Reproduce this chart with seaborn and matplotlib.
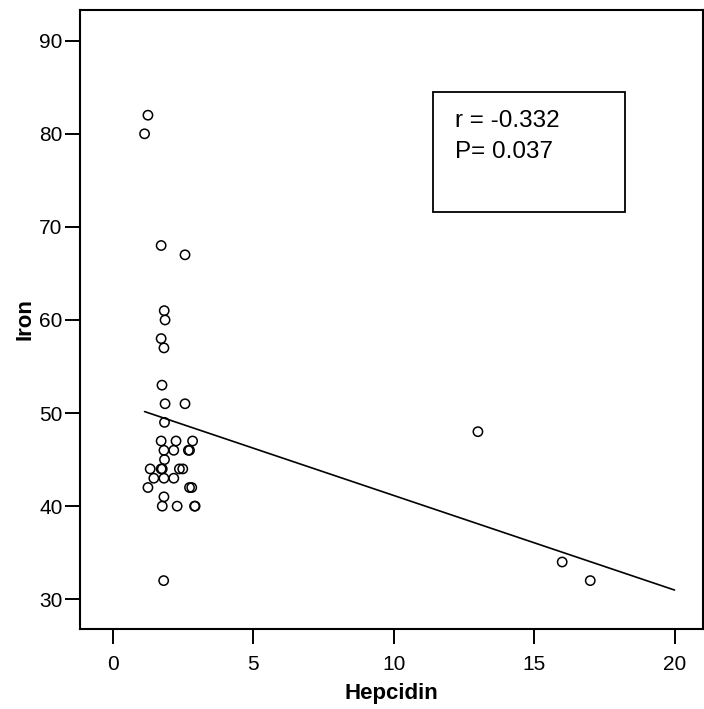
import numpy as np
import matplotlib
matplotlib.use("Agg")
import matplotlib.pyplot as plt
import seaborn as sns

# Hepcidin vs Iron values
hepcidin = [1.25, 1.13, 1.72, 2.57, 1.83, 1.86, 1.72, 1.82, 1.75, 1.86,
            2.57, 1.84, 1.72, 2.25, 2.84, 1.82, 2.17, 2.69, 2.73, 1.84,
            1.33, 1.72, 1.76, 2.37, 2.49, 1.46, 1.82, 2.17, 1.25, 2.73,
            2.81, 1.82, 1.76, 2.29, 2.91, 2.93, 1.81, 13.0, 16.0, 17.0]
iron = [82, 80, 68, 67, 61, 60, 58, 57, 53, 51,
        51, 49, 47, 47, 47, 46, 46, 46, 46, 45,
        44, 44, 44, 44, 44, 43, 43, 43, 42, 42,
        42, 41, 40, 40, 40, 40, 32, 48, 34, 32]
stats_lines = ["r = -0.332", "P= 0.037"]

sns.set_style("white")
plt.rcParams['font.family'] = ['Liberation Sans', 'DejaVu Sans']
plt.rcParams['text.color'] = 'black'
plt.rcParams['axes.labelcolor'] = 'black'
plt.rcParams['xtick.color'] = 'black'
plt.rcParams['ytick.color'] = 'black'

fig = plt.figure(figsize=(7.04, 7.09), dpi=100)
ax = fig.add_axes([0.1136, 0.1128, 0.8844, 0.8731])

sns.scatterplot(x=hepcidin, y=iron, ax=ax, s=45, facecolor="none",
                edgecolor="black", linewidth=1.1, zorder=3)

# linear fit line, drawn from smallest x to 20
slope, intercept = np.polyfit(hepcidin, iron, 1)
xs = np.array([min(hepcidin), 20])
ax.plot(xs, intercept + slope * xs, color="black", lw=1.2)

ax.set_xlim(-1.17, 21.0)
ax.set_ylim(26.8, 93.3)
ax.set_xticks([0, 5, 10, 15, 20])
ax.set_yticks([30, 40, 50, 60, 70, 80, 90])
ax.tick_params(direction="out", length=11, width=1.4, labelsize=15,
               bottom=True, left=True)
ax.tick_params(axis="x", pad=8)
ax.tick_params(axis="y", pad=1.5)
ax.set_xlabel("Hepcidin", fontsize=16, fontweight="bold", labelpad=6)
ax.set_ylabel("Iron", fontsize=16, fontweight="bold", labelpad=3)

for sp in ax.spines.values():
    sp.set_color("black")
    sp.set_linewidth(1.5)

# statistics box
ax.text(0.602, 0.8115, stats_lines[0], transform=ax.transAxes,
        fontsize=17.5, va="baseline", ha="left")
ax.text(0.602, 0.7614, stats_lines[1], transform=ax.transAxes,
        fontsize=17.5, va="baseline", ha="left")
ax.add_patch(plt.Rectangle((0.567, 0.674), 0.3077, 0.193,
                           transform=ax.transAxes, fill=False,
                           edgecolor="black", lw=1.3))

fig.savefig("out.png", dpi=100)
